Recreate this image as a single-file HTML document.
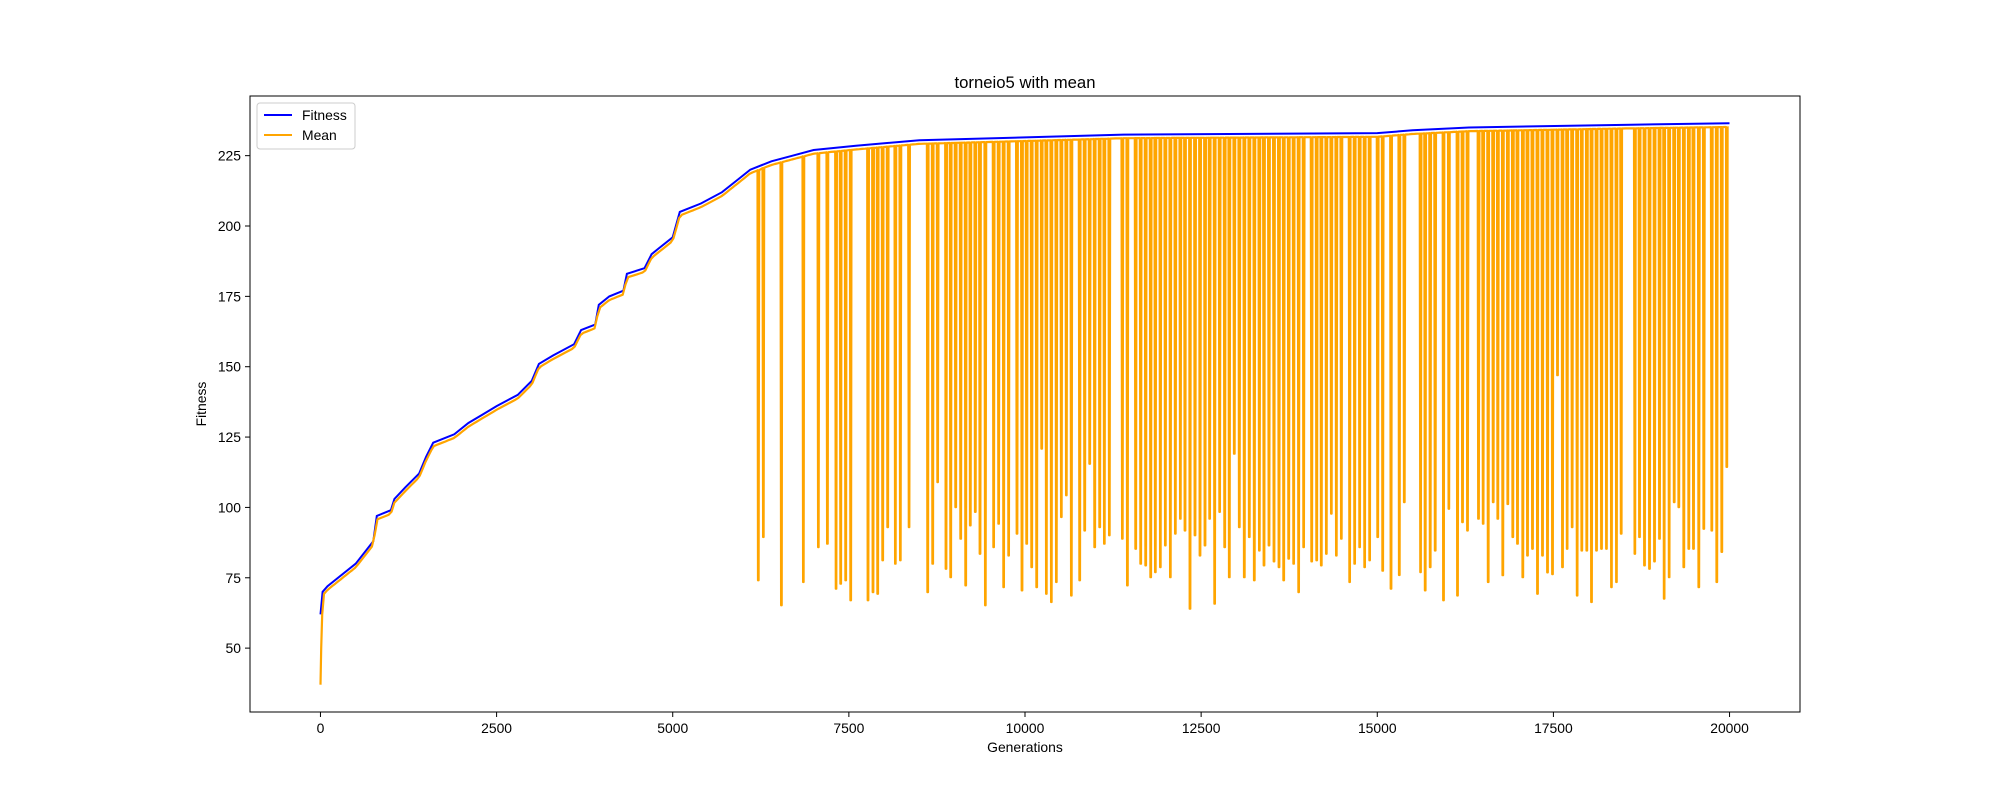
<!DOCTYPE html>
<html><head><meta charset="utf-8"><style>
body{margin:0;background:#fff;}
svg text{font-family:"Liberation Sans","DejaVu Sans",sans-serif;fill:#000;}
</style></head><body>
<svg id="chart" width="2000" height="800" xmlns="http://www.w3.org/2000/svg">
<rect width="2000" height="800" fill="#fff"/>
<defs><clipPath id="clip"><rect x="250" y="96" width="1550" height="616"/></clipPath></defs>
<g id="plot" clip-path="url(#clip)"></g>
<rect x="250" y="96" width="1550" height="616" fill="none" stroke="#000" stroke-width="1"/>
<g id="xt"></g>
<g id="yt"></g>
<text x="1025" y="88" font-size="16.7" text-anchor="middle">torneio5 with mean</text>
<text x="1025" y="752" font-size="13.9" text-anchor="middle">Generations</text>
<text x="0" y="0" font-size="13.9" text-anchor="middle" transform="translate(206,404) rotate(-90)">Fitness</text>
<g>
<rect x="257" y="103" width="98" height="46" rx="3" fill="#fff" fill-opacity="0.8" stroke="#ccc"/>
<line x1="264" y1="115" x2="292" y2="115" stroke="#0000ff" stroke-width="2"/>
<text x="302" y="120" font-size="13.9">Fitness</text>
<line x1="264" y1="135" x2="292" y2="135" stroke="#ffa500" stroke-width="2"/>
<text x="302" y="140" font-size="13.9">Mean</text>
</g>
</svg>
<script>
const fitGen=[0,30,100,500,750,800,1000,1050,1200,1400,1500,1600,1900,2100,2300,2500,2800,3000,3100,3300,3600,3700,3900,3950,4100,4300,4350,4600,4700,4800,5000,5100,5400,5700,5900,6100,6400,6700,7000,7600,8500,10000,11400,15000,15500,16300,18600,20000];
const fitVal=[62,70,72,80,88,97,99,103,107,112,118,123,126,130,133,136,140,145,151,154,158,163,165,172,175,177,183,185,190,192,196,205,208,212,216,220,223,225,227,228.5,230.5,231.5,232.5,233,234,235,236,236.5];
const meanStartGen=[0,10,25];
const meanStartVal=[37,50,62];
const meanOffset=1.3;
const spikeGen=[6215,6286,6542,6854,7067,7195,7318,7384,7455,7526,7772,7843,7909,7980,8051,8160,8231,8354,8619,8690,8760,8879,8945,9016,9087,9158,9224,9295,9361,9437,9555,9626,9697,9768,9886,9957,10024,10095,10166,10237,10303,10374,10445,10516,10587,10658,10776,10847,10918,10989,11060,11126,11197,11382,11453,11571,11642,11713,11784,11850,11921,11992,12063,12134,12205,12271,12342,12413,12484,12555,12621,12692,12763,12834,12900,12971,13042,13113,13184,13255,13326,13392,13463,13534,13605,13672,13743,13813,13884,13955,14069,14140,14206,14277,14348,14419,14490,14608,14679,14750,14821,14892,15006,15077,15195,15313,15384,15614,15680,15751,15822,15940,16016,16139,16210,16281,16437,16503,16574,16645,16711,16782,16853,16924,16990,17066,17132,17203,17274,17345,17416,17487,17558,17629,17695,17766,17837,17903,17974,18041,18112,18183,18253,18324,18395,18462,18656,18722,18793,18864,18935,19006,19072,19143,19214,19280,19351,19422,19488,19564,19635,19748,19819,19890,19961];
const spikeVal=[74.1,89.5,65.2,73.5,85.9,87.1,71.1,72.9,74.1,67,67,69.9,69.3,81.2,93,80,81.2,93,69.9,80,109,78.2,75.2,100.1,88.9,72.3,93.6,98.4,83.5,65.2,85.9,94.2,71.7,82.9,90.7,70.5,87.1,78.8,71.7,120.9,69.3,66.4,73.5,96.6,104.3,68.7,74.1,91.8,115.5,85.9,93,87.1,90.1,88.9,72.3,85.3,80,79.4,75.2,77,78.8,86.5,75.2,90.7,96,91.8,64,90.1,82.9,86.5,96,65.8,98.4,85.9,75.2,119.1,93,75.2,89.5,74.1,84.7,79.4,86.5,80.8,78.8,74.1,81.8,80,69.9,85.9,80.8,81.2,79.4,83.5,97.8,82.9,88.9,73.5,80,85.9,78.8,81.2,89.5,77.5,71.1,76,101.9,77,70.5,78.8,84.7,67,99.5,68.7,94.8,91.8,96,94.2,73.5,101.9,96,75.9,101.2,89.5,87.1,75.2,82.9,85.3,69.3,82.9,76.9,76.3,147,78.8,85.3,93,68.7,84.7,84.7,66.4,84.7,85.3,85.3,71.7,73.5,90.7,83.5,89.5,79.4,78.2,80.8,88.9,67.6,75.2,101.9,100.1,78.8,85.3,85.3,71.7,92.4,91.8,73.5,84.2,114.4];
const xTicks=[0,2500,5000,7500,10000,12500,15000,17500,20000];
const yTicks=[50,75,100,125,150,175,200,225];

const X=g=>250+(g+1000)/22000*1550;
const Y=v=>712-(v-27.3)/(246.2-27.3)*616;
const NS="http://www.w3.org/2000/svg";
function fitAt(g){for(let i=1;i<fitGen.length;i++){if(g<=fitGen[i]){const t=(g-fitGen[i-1])/(fitGen[i]-fitGen[i-1]);return fitVal[i-1]+t*(fitVal[i]-fitVal[i-1]);}}return fitVal[fitVal.length-1];}
const plot=document.getElementById('plot');
let mp=[];
for(let i=0;i<meanStartGen.length;i++)mp.push([meanStartGen[i],meanStartVal[i]]);
let evs=[];
for(let g=50;g<=20000;g+=40)evs.push([g,null]);
for(let i=0;i<spikeGen.length;i++)evs.push([spikeGen[i],spikeVal[i]]);
evs.sort((a,b)=>a[0]-b[0]);
for(const [g,v] of evs){
 if(v===null)mp.push([g,fitAt(g)-meanOffset]);
 else{mp.push([g-12,fitAt(g)-meanOffset]);mp.push([g-4,v]);mp.push([g+4,v]);mp.push([g+12,fitAt(g)-meanOffset]);}
}
const fp=fitGen.map((g,i)=>X(g).toFixed(1)+','+Y(fitVal[i]).toFixed(1)).join(' ');
const fl=document.createElementNS(NS,'polyline');
fl.setAttribute('points',fp);fl.setAttribute('fill','none');fl.setAttribute('stroke','#0000ff');fl.setAttribute('stroke-width','2');


plot.appendChild(fl);
const ml=document.createElementNS(NS,'polyline');
ml.setAttribute('points',mp.map(p=>X(p[0]).toFixed(1)+','+Y(p[1]).toFixed(1)).join(' '));
ml.setAttribute('fill','none');ml.setAttribute('stroke','#ffa500');ml.setAttribute('stroke-width','2.2');ml.setAttribute('stroke-linejoin','round');


plot.appendChild(ml);
const xt=document.getElementById('xt');
for(const t of xTicks){
 const l=document.createElementNS(NS,'line');
 l.setAttribute('x1',X(t));l.setAttribute('x2',X(t));l.setAttribute('y1',712);l.setAttribute('y2',717);l.setAttribute('stroke','#000');
 
 
 xt.appendChild(l);
 const tx=document.createElementNS(NS,'text');
 tx.setAttribute('x',X(t));tx.setAttribute('y',733);tx.setAttribute('font-size','13.9');tx.setAttribute('text-anchor','middle');
 tx.textContent=t;
 
 
 xt.appendChild(tx);
}
const yt=document.getElementById('yt');
for(const t of yTicks){
 const l=document.createElementNS(NS,'line');
 l.setAttribute('x1',245);l.setAttribute('x2',250);l.setAttribute('y1',Y(t));l.setAttribute('y2',Y(t));l.setAttribute('stroke','#000');
 
 
 yt.appendChild(l);
 const tx=document.createElementNS(NS,'text');
 tx.setAttribute('x',241);tx.setAttribute('y',Y(t)+5);tx.setAttribute('font-size','13.9');tx.setAttribute('text-anchor','end');
 tx.textContent=t;
 
 
 yt.appendChild(tx);
}
</script>
</body></html>
